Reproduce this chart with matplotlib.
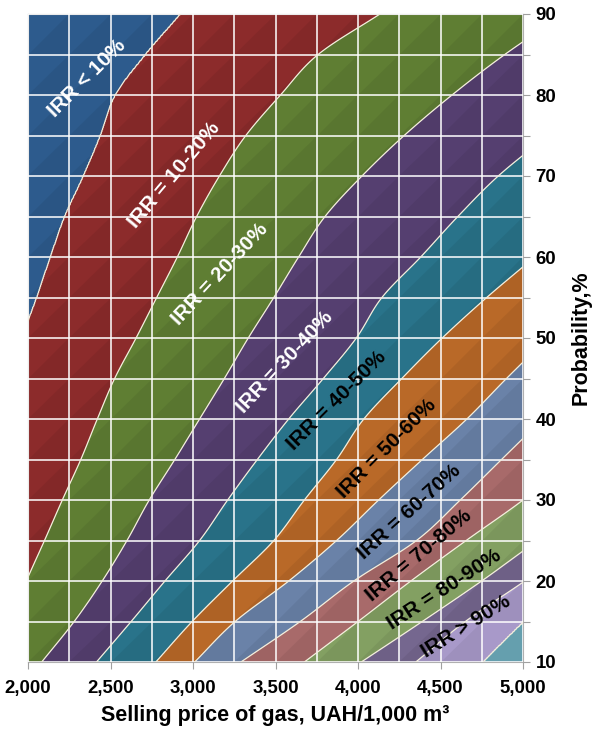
import numpy as np
import matplotlib
matplotlib.use("Agg")
import matplotlib.pyplot as plt
from matplotlib.ticker import FuncFormatter, MultipleLocator
from matplotlib.collections import PolyCollection

plt.rcParams['font.family'] = ['Liberation Sans', 'DejaVu Sans']
plt.rcParams['font.weight'] = 'bold'

# Probability levels (%) at which the IRR iso-lines are tabulated
prob_grid = [10, 15, 20, 25, 30, 35, 40, 45, 50, 55, 60, 65, 70, 75, 80, 85, 90]

# Gas price (UAH/1,000 m3) where IRR reaches each level, per probability row
irr10_x = [1320, 1400, 1480, 1560, 1640, 1720, 1800, 1880, 1960, 2050, 2133, 2220, 2333, 2436, 2527, 2709, 2921]
irr20_x = [1780, 1890, 1990, 2100, 2208, 2320, 2420, 2525, 2655, 2780, 2905, 3022, 3160, 3320, 3530, 3758, 4133]
irr30_x = [2083, 2280, 2450, 2600, 2735, 2890, 3040, 3190, 3335, 3490, 3640, 3800, 4024, 4280, 4570, 4890, 5250]
irr40_x = [2415, 2625, 2830, 3040, 3210, 3390, 3580, 3790, 3990, 4145, 4380, 4605, 4850, 5150, 5450, 5750, 6050]
irr50_x = [2775, 2995, 3240, 3490, 3675, 3870, 4035, 4265, 4510, 4780, 5070, 5350, 5650, 5950, 6250, 6550, 6850]
irr60_x = [3010, 3255, 3580, 3870, 4125, 4390, 4660, 4900, 5150, 5400, 5650, 5900, 6150, 6400, 6650, 6900, 7150]
irr70_x = [3290, 3650, 3975, 4355, 4620, 4870, 5120, 5370, 5620, 5870, 6120, 6370, 6620, 6870, 7120, 7370, 7620]
irr80_x = [3675, 4000, 4320, 4655, 5000, 5300, 5600, 5900, 6200, 6500, 6800, 7100, 7400, 7700, 8000, 8300, 8600]
irr90_x = [4020, 4390, 4750, 5090, 5450, 5800, 6150, 6500, 6850, 7200, 7550, 7900, 8250, 8600, 8950, 9300, 9650]
irr100_x = [4350, 4650, 5010, 5350, 5700, 6050, 6400, 6750, 7100, 7450, 7800, 8150, 8500, 8850, 9200, 9550, 9910]
irr110_x = [4760, 5010, 5300, 5650, 6000, 6350, 6700, 7050, 7400, 7750, 8100, 8450, 8800, 9150, 9500, 9850, 10200]

irr_levels = [10, 20, 30, 40, 50, 60, 70, 80, 90, 100, 110]

band_colors = ['#2D5B8D', '#8C2B2B', '#5F7E33', '#553F70', '#29738A', '#B96928',
               '#6A82A8', '#A86A6A', '#83A062', '#75678F', '#A899C9', '#6CA9B9']

band_labels = ['IRR < 10%', 'IRR = 10-20%', 'IRR = 20-30%', 'IRR = 30-40%',
               'IRR = 40-50%', 'IRR = 50-60%', 'IRR = 60-70%', 'IRR = 70-80%',
               'IRR = 80-90%', 'IRR > 90%']
label_x = [2358, 2885, 3164, 3558, 3873, 4174, 4309, 4370, 4521, 4655]
label_y = [82.0, 70.1, 57.9, 47.0, 42.3, 36.4, 28.5, 23.2, 19.0, 14.4]
label_rot = [45, 50, 47, 47, 45, 45, 42, 40, 33, 32]
label_color = ['white'] * 4 + ['black'] * 6

x_ticks = [2000, 2500, 3000, 3500, 4000, 4500, 5000]
y_ticks = [10, 20, 30, 40, 50, 60, 70, 80, 90]


def smooth_curve(yq, yk, xk):
    """Cubic Hermite curve through the tabulated points (x as a function of y)."""
    yk = np.asarray(yk, float)
    xk = np.asarray(xk, float)
    m = np.gradient(xk, yk)
    idx = np.clip(np.searchsorted(yk, yq) - 1, 0, len(yk) - 2)
    h = yk[idx + 1] - yk[idx]
    t = (yq - yk[idx]) / h
    h00 = 2 * t**3 - 3 * t**2 + 1
    h10 = t**3 - 2 * t**2 + t
    h01 = -2 * t**3 + 3 * t**2
    h11 = t**3 - t**2
    return h00 * xk[idx] + h10 * h * m[idx] + h01 * xk[idx + 1] + h11 * h * m[idx + 1]


# Build the IRR surface on a fine grid from the tabulated iso-lines
iso = [irr10_x, irr20_x, irr30_x, irr40_x, irr50_x, irr60_x,
       irr70_x, irr80_x, irr90_x, irr100_x, irr110_x]
lev = np.array(irr_levels, dtype=float)
xs = np.linspace(2000, 5000, 751)
ys = np.linspace(10, 90, 641)
iso_at_y = np.array([smooth_curve(ys, prob_grid, r) for r in iso])
Z = np.empty((ys.size, xs.size))
for i in range(ys.size):
    Z[i] = np.interp(xs, iso_at_y[:, i], lev, left=0.0, right=125.0)
X, Y = np.meshgrid(xs, ys)

fig = plt.figure(figsize=(5.94, 7.31), dpi=100)
ax = fig.add_axes([28 / 594, 69 / 731, 495 / 594, 648 / 731])

fill_levels = [-1] + irr_levels + [130]
ax.contourf(X, Y, Z, levels=fill_levels, colors=band_colors, antialiased=True, zorder=1)

# faint facet shading of the surface cells
cell_x = np.arange(2000, 5000, 250)
cell_y = np.arange(10, 90, 5)
tris = []
for cx in cell_x:
    for cy in cell_y:
        tris.append([(cx, cy), (cx + 250, cy), (cx + 250, cy + 5)])
ax.add_collection(PolyCollection(tris, facecolors='black', edgecolors='none',
                                 alpha=0.06, zorder=1.5))

ax.contour(X, Y, Z, levels=irr_levels, colors='#F3EEDC', linewidths=0.9, zorder=3)

ax.set_xlim(2000, 5000)
ax.set_ylim(10, 90)

# grid every 250 UAH and every 5 %
ax.xaxis.set_minor_locator(MultipleLocator(250))
ax.yaxis.set_minor_locator(MultipleLocator(5))
ax.set_xticks(x_ticks)
ax.set_yticks(y_ticks)
ax.grid(True, which='both', color='white', alpha=0.85, linewidth=1.3, zorder=2)
ax.set_axisbelow(False)

ax.yaxis.tick_right()
ax.yaxis.set_label_position('right')
ax.xaxis.set_major_formatter(FuncFormatter(lambda v, p: f'{v:,.0f}'))

ax.tick_params(axis='x', which='major', length=5, width=0.8, color='#A0A0A0',
               labelsize=13.4, pad=8)
ax.tick_params(axis='x', which='minor', length=0)
ax.tick_params(axis='y', which='both', length=5, width=0.8, color='#A0A0A0',
               labelsize=13.4, pad=4)
for lab in ax.get_xticklabels() + ax.get_yticklabels():
    lab.set_fontweight('bold')

for s in ax.spines.values():
    s.set_color('#B0B0B0')
    s.set_linewidth(0.8)

ax.set_xlabel('Selling price of gas, UAH/1,000 m³', fontsize=15.5, fontweight='bold', labelpad=6)
ax.set_ylabel('Probability,%', fontsize=15.5, fontweight='bold', labelpad=10)

for t, xv, yv, r, c in zip(band_labels, label_x, label_y, label_rot, label_color):
    ax.text(xv, yv, t, rotation=r, rotation_mode='anchor', ha='center', va='center',
            fontsize=15, fontweight='bold', color=c, zorder=5)

fig.savefig('out.png', dpi=100)
